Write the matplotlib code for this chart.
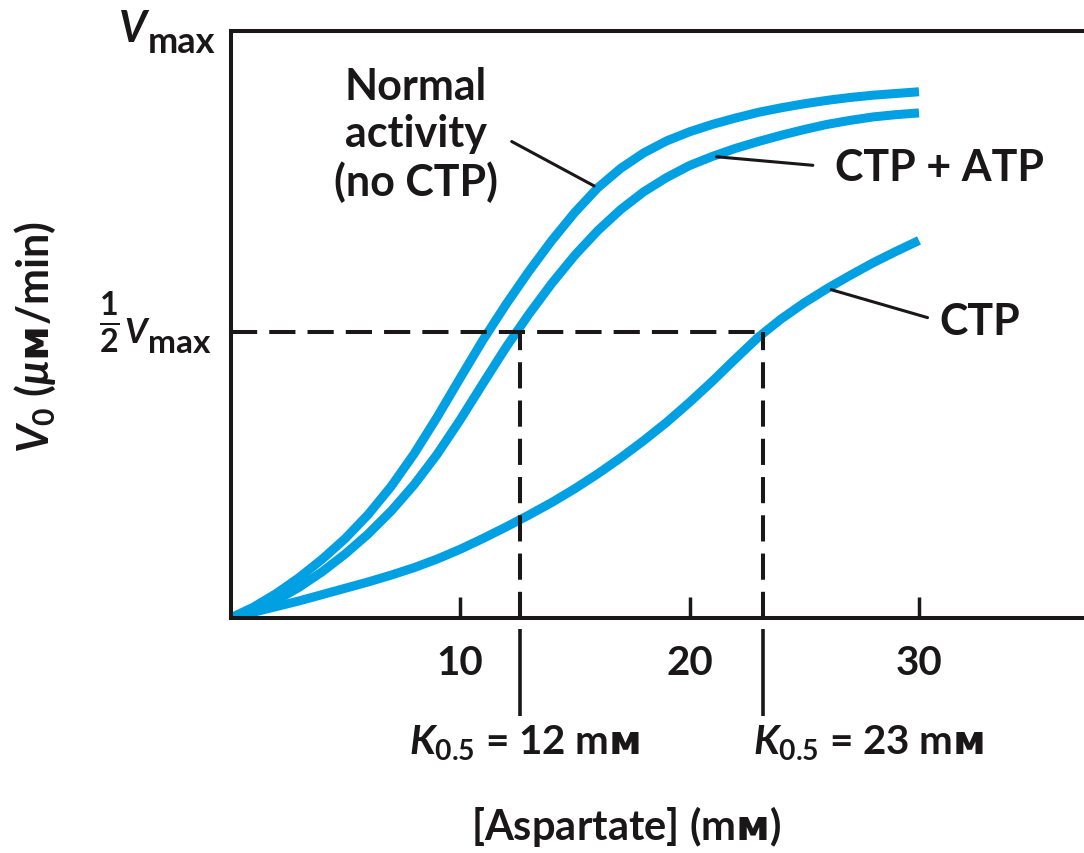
import matplotlib.pyplot as plt

# readings (aspartate in mM, v0 as fraction of Vmax)
aspartate = list(range(0, 31))
v_normal = [0, 0.019, 0.043, 0.071, 0.103, 0.139, 0.181, 0.230, 0.287, 0.351,
            0.419, 0.486, 0.548, 0.606, 0.660, 0.709, 0.752, 0.786, 0.813, 0.834,
            0.850, 0.863, 0.874, 0.884, 0.892, 0.899, 0.905, 0.910, 0.914, 0.917, 0.920]
v_ctp_atp = [0, 0.013, 0.031, 0.054, 0.081, 0.112, 0.147, 0.187, 0.233, 0.286,
             0.346, 0.410, 0.473, 0.531, 0.585, 0.634, 0.677, 0.714, 0.745, 0.770,
             0.791, 0.807, 0.821, 0.833, 0.844, 0.854, 0.863, 0.870, 0.876, 0.880, 0.883]
v_ctp = [0, 0.010, 0.020, 0.030, 0.041, 0.052, 0.063, 0.075, 0.088, 0.103,
         0.120, 0.139, 0.159, 0.180, 0.202, 0.226, 0.252, 0.280, 0.310, 0.342,
         0.377, 0.414, 0.453, 0.491, 0.523, 0.551, 0.576, 0.599, 0.621, 0.641, 0.660]
x_ticks = [10, 20, 30]
half_vmax = 0.5
k_lines = [12.6, 23.2]
k_values = ['12', '23']

plt.rcParams['font.family'] = ['Lato', 'DejaVu Sans']
plt.rcParams['font.weight'] = 'bold'
plt.rcParams['axes.labelweight'] = 'bold'
plt.rcParams['mathtext.fontset'] = 'custom'
plt.rcParams['mathtext.rm'] = 'Lato:bold'
plt.rcParams['mathtext.it'] = 'Lato:italic:bold'
plt.rcParams['mathtext.bf'] = 'Lato:bold'
plt.rcParams['mathtext.sf'] = 'DejaVu Sans:bold'
plt.rcParams['mathtext.fallback'] = 'stixsans'

blue = '#00a0e3'
ink = '#1a1718'
px = 0.72  # points per pixel at dpi 100
mm = r'm$\mathsf{ᴍ}$'

W, H = 1084, 854
fig = plt.figure(figsize=(W / 100, H / 100), dpi=100)
ax = fig.add_axes([230.5 / W, 1 - 619 / H, 1 - 230.5 / W, 587 / H])
ax.set_xlim(0, 853.5 / 22.95)
ax.set_ylim(0, 587 / 572)

for v in (v_normal, v_ctp_atp, v_ctp):
    ax.plot(aspartate, v, color=blue, lw=6.5, solid_capstyle='butt',
            solid_joinstyle='round', zorder=2)

dash = (0, (6.5, 3.0))
ax.hlines(half_vmax, 0, k_lines[-1], colors=ink, lw=2.9, linestyles=dash, zorder=3)
ax.vlines(k_lines, 0, half_vmax, colors=ink, lw=2.9, linestyles=dash, zorder=3)
ax.vlines(k_lines, -0.019, -0.167, colors=ink, lw=2.6,
          transform=ax.get_xaxis_transform(), clip_on=False)

for s in ['left', 'bottom', 'top']:
    ax.spines[s].set_linewidth(2.9)
    ax.spines[s].set_color(ink)
ax.spines['right'].set_visible(False)

ax.set_xticks(x_ticks)
ax.set_xticklabels([str(t) for t in x_ticks])
ax.tick_params(axis='x', direction='in', length=15, width=2.5, pad=19,
               labelsize=29, colors=ink)
ax.set_yticks([])

# y axis labels Vmax and 1/2 Vmax
ax.annotate('V', xy=(0, 1), xycoords='axes fraction', xytext=(-84 * px, -10 * px),
            textcoords='offset points', ha='right', va='baseline', fontsize=31,
            style='italic', color=ink)
ax.annotate('max', xy=(0, 1), xycoords='axes fraction', xytext=(-83 * px, -21 * px),
            textcoords='offset points', ha='left', va='baseline', fontsize=26, color=ink)
ax.annotate('V', xy=(0, half_vmax), xycoords=('axes fraction', 'data'),
            xytext=(-84 * px, -10 * px), textcoords='offset points', ha='right',
            va='baseline', fontsize=25, style='italic', color=ink)
ax.annotate('max', xy=(0, half_vmax), xycoords=('axes fraction', 'data'),
            xytext=(-83 * px, -20 * px), textcoords='offset points', ha='left',
            va='baseline', fontsize=24, color=ink)
ax.annotate(r'$\frac{1}{2}$', xy=(0, half_vmax), xycoords=('axes fraction', 'data'),
            xytext=(-121 * px, 10.5 * px), textcoords='offset points', ha='center',
            va='center', fontsize=33, color=ink)

ax.set_ylabel(r'$V_{0}$ ($\mu\mathsf{ᴍ}$/min)', fontsize=31, color=ink, va='center')
ax.yaxis.set_label_coords(-0.229, 0.48)
ax.set_xlabel('[Aspartate] (' + mm + ')', fontsize=30, color=ink, va='baseline')
ax.xaxis.set_label_coords(0.4634, -0.3765)

# K0.5 labels under the dashed lines
ax.text(k_lines[0] + 0.2, -0.2317, r'$K_{0.5}$ = ' + k_values[0] + ' ' + mm,
        transform=ax.get_xaxis_transform(), ha='center', va='baseline',
        fontsize=29, color=ink)
ax.text(k_lines[1] - 0.45, -0.2317, r'$K_{0.5}$ = ' + k_values[1] + ' ' + mm,
        transform=ax.get_xaxis_transform(), ha='left', va='baseline',
        fontsize=29, color=ink)

# curve labels with leader lines
lead = dict(arrowstyle='-', color=ink, lw=2.2, shrinkB=3)
ax.annotate('Normal\nactivity\n(no CTP)', xy=(aspartate[16], v_normal[16]),
            xytext=(8.08, 0.846), ha='center', va='center', fontsize=31,
            linespacing=1.22, color=ink,
            arrowprops=dict(lead, relpos=(1, 0.5), shrinkA=9))
ax.annotate('CTP + ATP', xy=(aspartate[21], v_ctp_atp[21]),
            xytext=(26.34, 0.788), ha='left', va='center', fontsize=31, color=ink,
            arrowprops=dict(lead, relpos=(0, 0.5), shrinkA=14))
ax.annotate('CTP', xy=(aspartate[26], v_ctp[26]),
            xytext=(30.9, 0.519), ha='left', va='center', fontsize=31, color=ink,
            arrowprops=dict(lead, relpos=(0, 0.5), shrinkA=7))

fig.savefig('out.png', dpi=100)
